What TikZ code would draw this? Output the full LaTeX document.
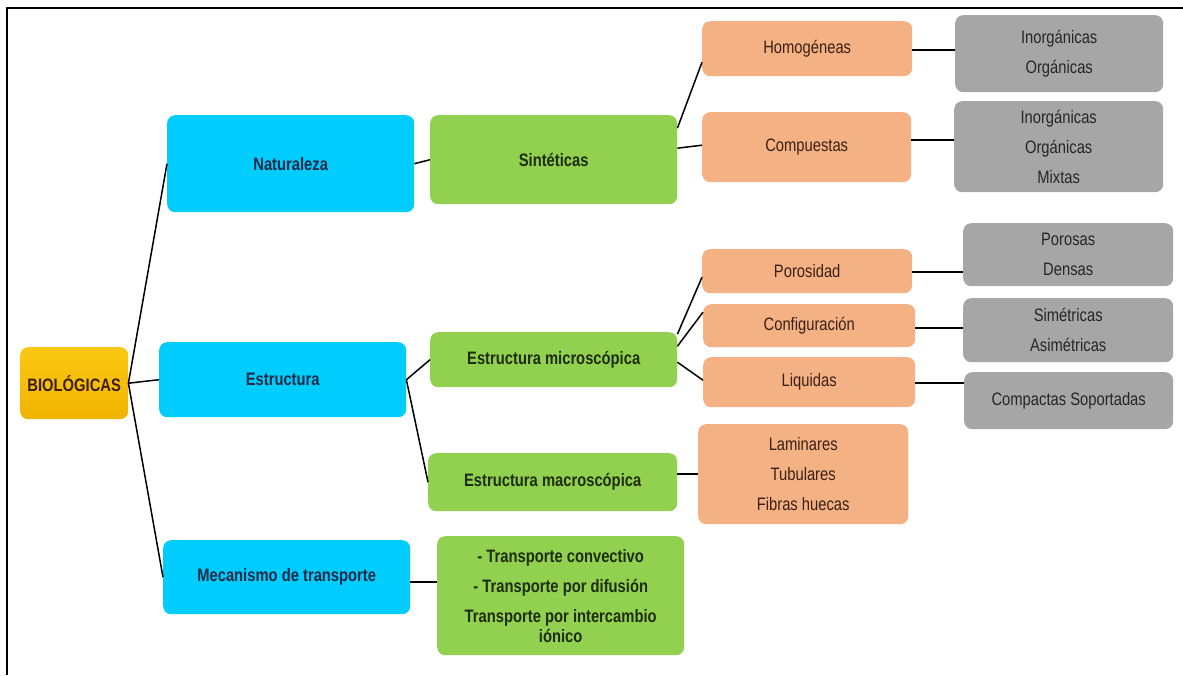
\documentclass[tikz,border=0pt]{standalone}
\usepackage{fontspec}
\setmainfont[FakeStretch=0.82]{Liberation Sans}
\usetikzlibrary{calc}
\definecolor{cblue}{RGB}{0,204,253}
\definecolor{cgreen}{RGB}{146,208,80}
\definecolor{corange}{RGB}{244,177,131}
\definecolor{cgray}{RGB}{166,166,166}
\definecolor{cyelT}{RGB}{250,200,20}
\definecolor{cyelB}{RGB}{240,180,0}
\definecolor{tblue}{RGB}{27,42,71}
\definecolor{tgreen}{RGB}{30,45,14}
\definecolor{torange}{RGB}{58,32,21}
\definecolor{tgray}{RGB}{38,38,38}
\definecolor{tyel}{RGB}{61,31,0}
\begin{document}
\begin{tikzpicture}[x=1pt,y=-1pt,
  box/.style={rectangle, rounded corners=8pt, inner sep=0pt, anchor=north west, align=center, font=\fontsize{18}{30}\selectfont},
  yelbox/.style={box, top color=cyelT, bottom color=cyelB, text=tyel, font=\fontsize{18}{30}\selectfont\bfseries},
  bluebox/.style={box, fill=cblue, text=tblue, font=\fontsize{18}{30}\selectfont\bfseries},
  greenbox/.style={box, fill=cgreen, text=tgreen, font=\fontsize{18}{30}\selectfont\bfseries},
  orangebox/.style={box, fill=corange, text=torange},
  graybox/.style={box, fill=cgray, text=tgray},
  link/.style={draw=black, line width=1.5pt}]
\useasboundingbox (0,0) rectangle (1183,675);
\draw[line width=2pt] (7,675) -- (7,8) -- (1183,8);

\node[yelbox, minimum width=108pt, minimum height=72pt] (bio) at (20,347) {BIOLÓGICAS};
\node[bluebox, minimum width=247pt, minimum height=97pt] (nat) at (167,115) {Naturaleza};
\node[bluebox, minimum width=247pt, minimum height=75pt] (est) at (159,342) {Estructura};
\node[bluebox, minimum width=247pt, minimum height=74pt] (mec) at (163,540) {Mecanismo de transporte};

\node[greenbox, minimum width=247pt, minimum height=89pt] (sint) at (430,115) {Sintéticas};
\node[greenbox, minimum width=247pt, minimum height=55pt] (micro) at (430,332) {Estructura microscópica};
\node[greenbox, minimum width=249pt, minimum height=58pt] (macro) at (428,453) {Estructura macroscópica};
\node[greenbox, minimum width=247pt, minimum height=119pt] (trans) at (437,536) {- Transporte convectivo\\- Transporte por difusión\\Transporte por intercambio\\[-10pt]iónico};

\node[orangebox, minimum width=210pt, minimum height=55pt] (homo) at (702,21) {Homogéneas};
\node[orangebox, minimum width=209pt, minimum height=70pt] (comp) at (702,112) {Compuestas};
\node[orangebox, minimum width=210pt, minimum height=44pt] (poro) at (702,249) {Porosidad};
\node[orangebox, minimum width=212pt, minimum height=43pt] (conf) at (703,304) {Configuración};
\node[orangebox, minimum width=212pt, minimum height=50pt] (liq) at (703,357) {Liquidas};
\node[orangebox, minimum width=210pt, minimum height=100pt] (lam) at (698,424) {Laminares\\Tubulares\\Fibras huecas};

\node[graybox, minimum width=208pt, minimum height=77pt] (g1) at (955,15) {Inorgánicas\\Orgánicas};
\node[graybox, minimum width=209pt, minimum height=91pt] (g2) at (954,101) {Inorgánicas\\Orgánicas\\Mixtas};
\node[graybox, minimum width=210pt, minimum height=63pt] (gp) at (963,223) {Porosas\\Densas};
\node[graybox, minimum width=210pt, minimum height=64pt] (gs) at (963,298) {Simétricas\\Asimétricas};
\node[graybox, minimum width=209pt, minimum height=57pt] (gc) at (964,372) {Compactas Soportadas};

\draw[link] (bio.east) -- (nat.west);
\draw[link] (bio.east) -- (est.west);
\draw[link] (bio.east) -- (mec.west);
\draw[link] (nat.east) -- (sint.west);
\draw[link] (est.east) -- (micro.west);
\draw[link] (est.east) -- (macro.west);
\draw[link] ([yshift=-5pt]mec.east) -- ([yshift=13.5pt]trans.west);
\draw[link] ([yshift=31.5pt]sint.east) -- ([yshift=-13.5pt]homo.west);
\draw[link] ([yshift=11.5pt]sint.east) -- ([yshift=2pt]comp.west);
\draw[link] ([yshift=-1.5pt]homo.east) -- ([yshift=3.5pt]g1.west);
\draw[link] ([yshift=7pt]comp.east) -- ([yshift=6.5pt]g2.west);
\draw[link] ([yshift=25.5pt]micro.east) -- ([yshift=-6pt]poro.west);
\draw[link] ([yshift=13.5pt]micro.east) -- ([yshift=13.5pt]conf.west);
\draw[link] ([yshift=-2.5pt]micro.east) -- ([yshift=2pt]liq.west);
\draw[link] ([yshift=8pt]macro.east) -- (lam.west);
\draw[link] ([yshift=-1pt]poro.east) -- ([yshift=-17.5pt]gp.west);
\draw[link] ([yshift=-2.5pt]conf.east) -- ([yshift=2pt]gs.west);
\draw[link] ([yshift=-1pt]liq.east) -- ([yshift=17.5pt]gc.west);
\end{tikzpicture}
\end{document}
